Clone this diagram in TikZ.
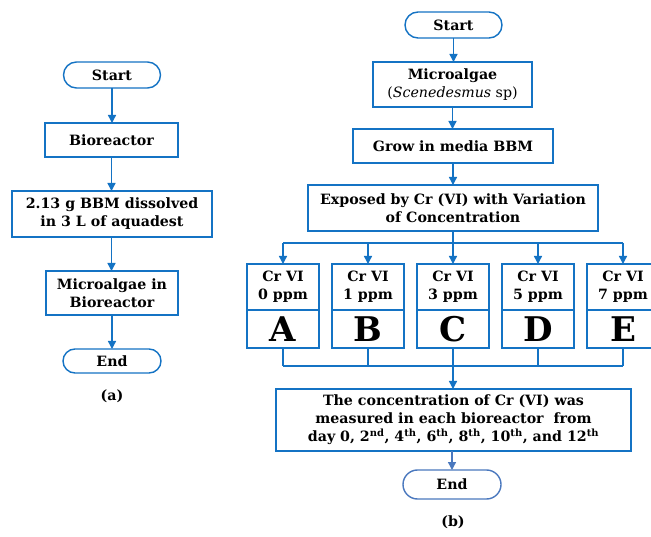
\documentclass[tikz,border=0pt]{standalone}
\usepackage{fontspec}
\setmainfont{DejaVu Serif}
\usetikzlibrary{arrows.meta,shapes.misc}
\definecolor{cblue}{RGB}{20,115,196}
\definecolor{sblue}{RGB}{74,120,190}
\tikzset{
  every node/.style={inner sep=0pt, outer sep=0pt},
  txt/.style={font=\fontsize{14.2}{18}\selectfont\bfseries, align=center},
  box/.style={txt, draw=cblue, line width=1.4pt, fill=white, rectangle},
  term/.style={txt, draw=cblue, line width=1.4pt, fill=white, rounded rectangle},
  big/.style={draw=cblue, line width=1.4pt, fill=white, rectangle, font=\fontsize{34}{36}\selectfont\bfseries},
  conn/.style={draw=cblue, line width=1.4pt},
  arr/.style={conn, -{Triangle[length=8pt,width=8pt]}},
}
\begin{document}
\begin{tikzpicture}[x=1pt,y=-1pt]
\fill[white] (0,0) rectangle (651,537);
\useasboundingbox (0,0) rectangle (651,537);
\clip (0,0) rectangle (651,537);
% (a)
\node[term, minimum width=97pt, minimum height=26pt] (sA) at (112,75) {Start};
\node[box, minimum width=133pt, minimum height=34pt] (bA) at (111.5,140) {Bioreactor};
\node[box, minimum width=200pt, minimum height=46pt] (gA) at (112,214) {2.13 g BBM dissolved\\in 3 L of aquadest};
\node[box, minimum width=132pt, minimum height=44pt] (mA) at (112,293) {Microalgae in\\Bioreactor};
\node[term, minimum width=98pt, minimum height=24pt] (eA) at (112,361) {End};
\node[txt] (la) at (112,396) {(a)};
\draw[arr] (sA) -- (sA |- bA.north);
\draw[arr] (bA) -- (bA |- gA.north);
\draw[arr] (gA.south -| bA) -- (bA |- mA.north);
\draw[arr] (mA) -- (mA |- eA.north);
% (b)
\node[term, minimum width=97pt, minimum height=26pt] (sB) at (453.5,25) {Start};
\node[box, minimum width=159pt, minimum height=45pt] (mB) at (452.5,84.5) {Microalgae\\{\mdseries(\textit{Scenedesmus} sp)}};
\node[box, minimum width=200pt, minimum height=34pt] (gB) at (453,146) {Grow in media BBM};
\node[box, minimum width=290pt, minimum height=46pt] (xB) at (453,208) {Exposed by Cr (VI) with Variation\\of Concentration};
\coordinate (bus) at (453,243);
\coordinate (bot) at (453,366);
\foreach \n/\x/\c in {A/283/0,B/368/1,C/453/3,D/538/5,E/623/7}{
  \node[box, minimum width=72pt, minimum height=46pt] (c\n) at (\x,287) {Cr VI\\\c\ ppm};
  \node[big, minimum width=72pt, minimum height=38pt] (l\n) at (\x,329) {\n};
}
\draw[arr] (sB) -- (sB |- mB.north);
\draw[arr] (mB) -- (mB |- gB.north);
\draw[arr] (gB) -- (gB |- xB.north);
\draw[conn] (xB) -- (bus);
\draw[conn] (cA.north |- bus) -- (cE.north |- bus);
\foreach \n in {A,B,C,D,E}{
  \draw[arr] (c\n.north |- bus) -- (c\n.north);
  \draw[conn] (l\n.south) -- (l\n.south |- bot);
}
\draw[conn] (lA.south |- bot) -- (lE.south |- bot);
\node[box, minimum width=355pt, minimum height=62pt] (meB) at (453.5,420) {The concentration of Cr (VI) was\\measured in each bioreactor \ from\\day 0, 2\textsuperscript{nd}, 4\textsuperscript{th}, 6\textsuperscript{th}, 8\textsuperscript{th}, 10\textsuperscript{th}, and 12\textsuperscript{th}};
\draw[arr] (bot) -- (meB.north -| bot);
\node[term, draw=sblue, minimum width=98pt, minimum height=29pt] (eB) at (452,484.5) {End};
\draw[conn, draw=sblue, -{Triangle[length=8pt,width=8pt]}] (meB.south -| eB.north) -- (eB.north);
\node[txt] (lb) at (453,522) {(b)};
\end{tikzpicture}
\end{document}
